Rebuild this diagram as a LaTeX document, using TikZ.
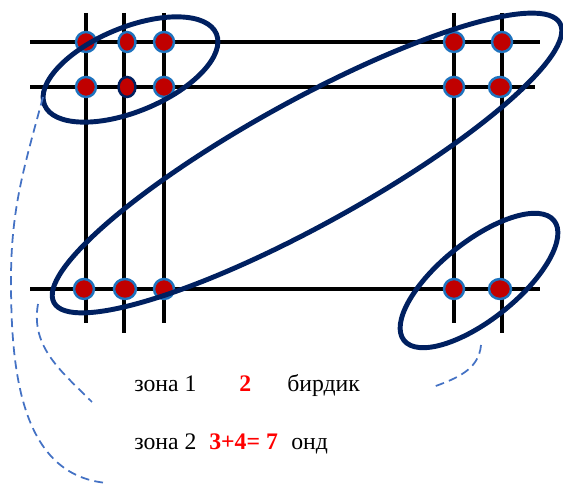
\documentclass[tikz,border=0pt]{standalone}
\usepackage{fontspec}
\setmainfont{Liberation Serif}
\usetikzlibrary{shapes.geometric}
\definecolor{zonenavy}{RGB}{0,32,96}
\definecolor{pointred}{RGB}{192,0,0}
\definecolor{pointedge}{RGB}{30,115,190}
\definecolor{linkblue}{RGB}{68,114,196}
\definecolor{sumred}{RGB}{255,0,0}

\begin{document}
\begin{tikzpicture}[x=0.02cm, y=0.02cm,
      wire/.style={line width=1.9pt, black},
      point/.style={ellipse, draw=pointedge, fill=pointred, line width=1.4pt, minimum width=0.4cm, minimum height=0.4cm, inner sep=0pt},
      zone/.style={draw=zonenavy, line width=2.8pt},
      link/.style={linkblue, line width=1pt, dash pattern=on 5pt off 3pt},
      zonetext/.style={anchor=base west, inner sep=0pt, font=\fontsize{13.5}{16}\selectfont},
      zonesum/.style={zonetext, text=sumred, font=\fontsize{13.5}{16}\selectfont\bfseries}
    ]
      \useasboundingbox (0,0) rectangle (563,492);

      \draw[wire] (30,450) -- (540,450);
      \draw[wire] (30,405) -- (535,405);
      \draw[wire] (30,203) -- (540,203);
      \foreach \x/\y in {86/169, 124/159, 164/169, 454/169, 502/159}
        \draw[wire] (\x,479) -- (\x,\y);

      \node[point] (p11) at (86,450) {};
      \node[point, minimum width=0.34cm] (p12) at (127,450) {};
      \node[point] (p13) at (164,450) {};
      \node[point] (p14) at (454,450) {};
      \node[point] (p15) at (502,450) {};
      \node[point] (p21) at (86,405) {};
      \node[point, minimum width=0.34cm, draw=zonenavy] (p22) at (127,405) {};
      \node[point] (p23) at (164,405) {};
      \node[point] (p24) at (454,405) {};
      \node[point, minimum width=0.44cm] (p25) at (500,405) {};
      \node[point] (p31) at (84,203) {};
      \node[point, minimum width=0.44cm] (p32) at (125,203) {};
      \node[point] (p33) at (164,203) {};
      \node[point] (p34) at (454,203) {};
      \node[point, minimum width=0.44cm] (p35) at (500,203) {};

      \draw[zone, rotate around={22.5:(130.5,422.5)}] (130.5,422.5) ellipse [x radius=93, y radius=42];
      \draw[zone, rotate around={28.9:(307,329)}] (307,329) ellipse [x radius=289, y radius=62];
      \draw[zone, rotate around={38.6:(479,211.5)}] (479,211.5) ellipse [x radius=96, y radius=39];

      \coordinate (a0) at (43,395);
      \coordinate (a1) at (11,212);
      \coordinate (a2) at (107,9);
      \coordinate (b0) at (38,188);
      \coordinate (b1) at (92,90);
      \coordinate (c0) at (481,147);
      \coordinate (c1) at (433,105);
      \draw[link] (a0) to[out=-105,in=90] (a1) to[out=-90,in=175] (a2);
      \draw[link] (b0) to[out=-100,in=135] (b1);
      \draw[link] (c0) to[out=-95,in=20] (c1);

      \node[zonetext] (z1) at (134,100) {зона 1};
      \node[zonesum] (s1) at (239,100) {2};
      \node[zonetext] (w1) at (287,100) {бирдик};
      \node[zonetext] (z2) at (134,42) {зона 2};
      \node[zonesum] (s2) at (209,42) {3+4= 7};
      \node[zonetext] (w2) at (291,42) {онд};
    \end{tikzpicture}
\end{document}
